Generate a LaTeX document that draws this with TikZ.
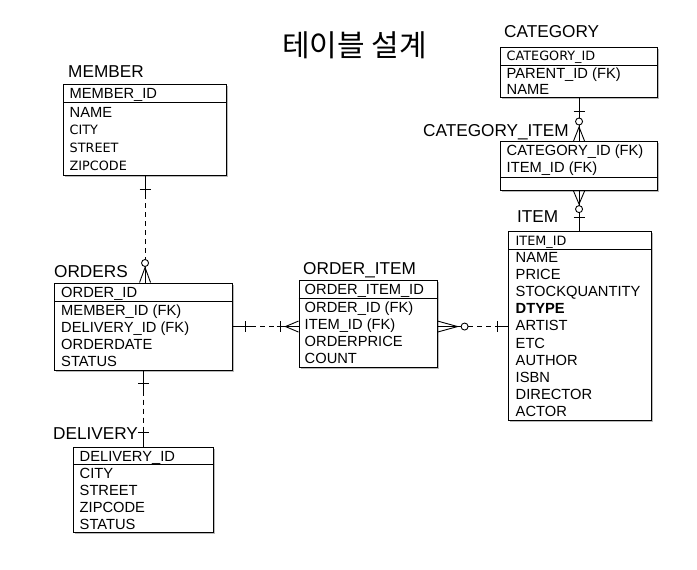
\documentclass[tikz,border=0pt]{standalone}
\usepackage{fontspec}
\setmainfont{Liberation Sans}
\newfontfamily\krfont{Noto Sans CJK KR}
\newfontfamily\lucfont{DejaVu Sans}
\usetikzlibrary{shadows,calc}
\begin{document}
\begin{tikzpicture}[x=1pt,y=-1pt,
  tbl/.style={draw,line width=1.1pt,fill=white,inner sep=0pt,anchor=north west,
    drop shadow={shadow xshift=1.5pt,shadow yshift=-1.5pt,fill=black!45,opacity=0.6}},
  row/.style={anchor=base west,inner sep=0pt,font=\fontsize{14.7}{16}\selectfont},
  srow/.style={anchor=base west,inner sep=0pt,font=\lucfont\fontsize{12.8}{14}\selectfont},
  lbl/.style={anchor=base west,inner sep=0pt,font=\fontsize{17.2}{19}\selectfont},
  sep/.style={line width=1pt},
  conn/.style={line width=0.9pt},
  dconn/.style={line width=0.9pt,dash pattern=on 5pt off 4pt}]
\useasboundingbox (0,0) rectangle (697,570);

% title
\node[inner sep=0pt,font=\krfont\fontsize{30}{33}\selectfont] (title) at (354.5,45) {테이블 설계};

% ---------------- MEMBER
\node[lbl] (lmember) at (68,77) {MEMBER};
\node[tbl,minimum width=163pt,minimum height=91pt] (member) at (63,84) {};
\draw[sep] (member.west |- 0,102) -- (member.east |- 0,102);
\node[row] (m1) at (69.5,98.5) {MEMBER\_ID};
\node[row] (m2) at (69.5,117) {NAME};
\node[srow] (m3) at (69.5,134) {CITY};
\node[srow] (m4) at (69.5,152) {STREET};
\node[srow] (m5) at (69.5,170) {ZIPCODE};

% ---------------- ORDERS
\node[lbl] (lorders) at (54,277) {ORDERS};
\node[tbl,minimum width=178pt,minimum height=87pt] (orders) at (54,282.5) {};
\draw[sep] (orders.west |- 0,301) -- (orders.east |- 0,301);
\node[row] (o1) at (61,297) {ORDER\_ID};
\node[row] (o2) at (61,315.3) {MEMBER\_ID (FK)};
\node[row] (o3) at (61,332.2) {DELIVERY\_ID (FK)};
\node[row] (o4) at (61,349.1) {ORDERDATE};
\node[row] (o5) at (61,366) {STATUS};

% ---------------- DELIVERY
\node[lbl] (ldelivery) at (53,439) {DELIVERY};
\node[tbl,minimum width=140pt,minimum height=85pt] (delivery) at (73,447) {};
\draw[sep] (delivery.west |- 0,464) -- (delivery.east |- 0,464);
\node[row] (d1) at (79.5,461) {DELIVERY\_ID};
\node[row] (d2) at (79.5,478) {CITY};
\node[row] (d3) at (79.5,495) {STREET};
\node[row] (d4) at (79.5,512) {ZIPCODE};
\node[row] (d5) at (79.5,529) {STATUS};

% ---------------- ORDER_ITEM
\node[lbl] (lorderitem) at (303,274) {ORDER\_ITEM};
\node[tbl,minimum width=138pt,minimum height=87pt] (orderitem) at (298.5,279.5) {};
\draw[sep] (orderitem.west |- 0,298) -- (orderitem.east |- 0,298);
\node[row] (oi1) at (304.5,294.5) {ORDER\_ITEM\_ID};
\node[row] (oi2) at (304.5,312.7) {ORDER\_ID (FK)};
\node[row] (oi3) at (304.5,329.3) {ITEM\_ID (FK)};
\node[row] (oi4) at (304.5,346) {ORDERPRICE};
\node[row] (oi5) at (304.5,363) {COUNT};

% ---------------- CATEGORY
\node[lbl] (lcategory) at (504,37) {CATEGORY};
\node[tbl,minimum width=157pt,minimum height=50pt] (category) at (500,47) {};
\draw[sep] (category.west |- 0,65) -- (category.east |- 0,65);
\node[srow] (c1) at (506.5,60.5) {CATEGORY\_ID};
\node[row] (c2) at (506.5,78) {PARENT\_ID (FK)};
\node[row] (c3) at (506.5,94.5) {NAME};

% ---------------- CATEGORY_ITEM
\node[lbl] (lcatitem) at (423,136) {CATEGORY\_ITEM};
\node[tbl,minimum width=157pt,minimum height=49pt] (catitem) at (500,141) {};
\draw[sep] (catitem.west |- 0,177) -- (catitem.east |- 0,177);
\node[row] (ci1) at (506.5,155.5) {CATEGORY\_ID (FK)};
\node[row] (ci2) at (506.5,172.5) {ITEM\_ID (FK)};

% ---------------- ITEM
\node[lbl] (litem) at (517,222) {ITEM};
\node[tbl,minimum width=143pt,minimum height=189pt] (item) at (508,231) {};
\draw[sep] (item.west |- 0,249) -- (item.east |- 0,249);
\node[srow] (i0) at (515.5,245) {ITEM\_ID};
\node[row] (i1) at (515.5,262.5) {NAME};
\node[row] (i2) at (515.5,279.6) {PRICE};
\node[row] (i3) at (515.5,296.7) {STOCKQUANTITY};
\node[row,font=\bfseries\fontsize{14.7}{16}\selectfont] (i4) at (515.5,313.8) {DTYPE};
\node[row] (i5) at (515.5,330.9) {ARTIST};
\node[row] (i6) at (515.5,348) {ETC};
\node[row] (i7) at (515.5,365.1) {AUTHOR};
\node[row] (i8) at (515.5,382.2) {ISBN};
\node[row] (i9) at (515.5,399.3) {DIRECTOR};
\node[row] (i10) at (515.5,416.4) {ACTOR};

% ================= connectors
% MEMBER -- ORDERS (one to zero-or-many)
\coordinate (aT) at (member.south);
\coordinate (aB) at (member.south |- orders.north);
\draw[conn] (aT) -- ($(aT)+(0,18)$);
\draw[conn] ($(aT)+(-5.5,13)$) -- ($(aT)+(5.5,13)$);
\draw[dconn] ($(aT)+(0,18)$) -- ($(aB)+(0,-23)$);
\draw[conn] ($(aB)+(0,-19.5)$) circle (3.5pt);
\draw[conn] ($(aB)+(0,-16)$) -- (aB);
\draw[conn] ($(aB)+(-5.5,0)$) -- ($(aB)+(0,-15)$) -- ($(aB)+(5.5,0)$);

% ORDERS -- DELIVERY (one to one)
\coordinate (dT) at (orders.south);
\coordinate (dB) at (orders.south |- delivery.north);
\draw[conn] (dT) -- ($(dT)+(0,20)$);
\draw[conn] ($(dT)+(-5.5,13)$) -- ($(dT)+(5.5,13)$);
\draw[dconn] ($(dT)+(0,20)$) -- ($(dB)+(0,-20)$);
\draw[conn] ($(dB)+(0,-20)$) -- (dB);
\draw[conn] ($(dB)+(-5.5,-15)$) -- ($(dB)+(5.5,-15)$);

% ORDERS -- ORDER_ITEM (one to many)
\coordinate (hL) at (orders.east);
\coordinate (hR) at (orders.east -| orderitem.west);
\draw[conn] (hL) -- ($(hL)+(18,0)$);
\draw[conn] ($(hL)+(12,-5.5)$) -- ($(hL)+(12,5.5)$);
\draw[dconn] ($(hL)+(18,0)$) -- ($(hR)+(-22,0)$);
\draw[conn] ($(hR)+(-22,0)$) -- (hR);
\draw[conn] ($(hR)+(-18.5,-5.5)$) -- ($(hR)+(-18.5,5.5)$);
\draw[conn] ($(hR)+(0,-5.5)$) -- ($(hR)+(-13,0)$) -- ($(hR)+(0,5.5)$);

% ORDER_ITEM -- ITEM (zero-or-many to one)
\coordinate (gL) at (orderitem.east |- orders.east);
\coordinate (gR) at (item.west |- orders.east);
\draw[conn] ($(gL)+(0,-5.5)$) -- ($(gL)+(20,0)$) -- ($(gL)+(0,5.5)$);
\draw[conn] (gL) -- ($(gL)+(23.5,0)$);
\draw[conn] ($(gL)+(27,0)$) circle (3.5pt);
\draw[dconn] ($(gL)+(30.5,0)$) -- ($(gR)+(-11,0)$);
\draw[conn] ($(gR)+(-11,0)$) -- (gR);
\draw[conn] ($(gR)+(-11,-5.5)$) -- ($(gR)+(-11,5.5)$);

% CATEGORY -- CATEGORY_ITEM (one to zero-or-many)
\coordinate (cT) at (category.south);
\coordinate (cB) at (category.south |- catitem.north);
\draw[conn] (cT) -- ($(cB)+(0,-23)$);
\draw[conn] ($(cT)+(-5.5,13)$) -- ($(cT)+(5.5,13)$);
\draw[conn] ($(cB)+(0,-19.5)$) circle (3.5pt);
\draw[conn] ($(cB)+(0,-16)$) -- (cB);
\draw[conn] ($(cB)+(-5.5,0)$) -- ($(cB)+(0,-14)$) -- ($(cB)+(5.5,0)$);

% CATEGORY_ITEM -- ITEM (zero-or-many to one)
\coordinate (eT) at (catitem.south);
\coordinate (eB) at (catitem.south |- item.north);
\draw[conn] ($(eT)+(-5.5,0)$) -- ($(eT)+(0,13)$) -- ($(eT)+(5.5,0)$);
\draw[conn] (eT) -- ($(eT)+(0,14.5)$);
\draw[conn] ($(eT)+(0,18)$) circle (3.5pt);
\draw[conn] ($(eT)+(0,21.5)$) -- (eB);
\draw[conn] ($(eB)+(-5.5,-14)$) -- ($(eB)+(5.5,-14)$);
\end{tikzpicture}
\end{document}
